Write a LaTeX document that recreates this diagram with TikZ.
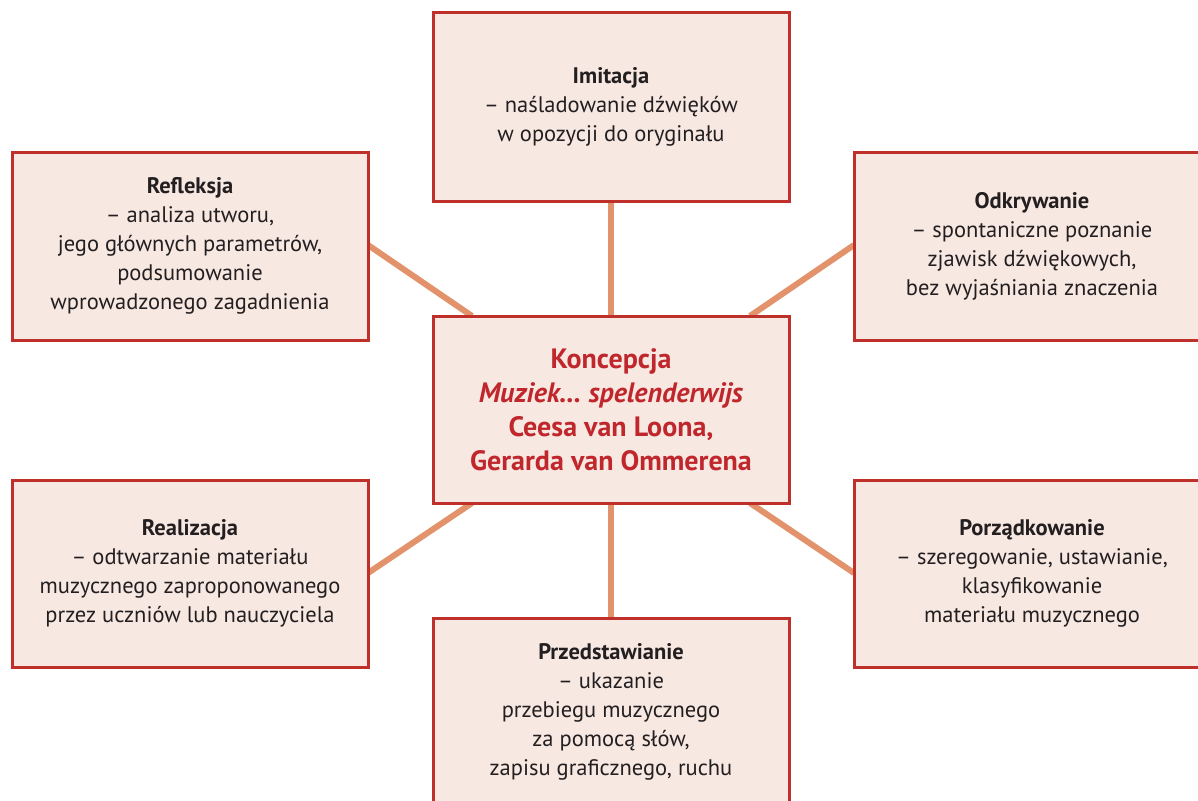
\documentclass[tikz,border=0pt]{standalone}
\usepackage{fontspec}
\setmainfont{PT Sans}
\usetikzlibrary{calc}
\definecolor{boxfill}{HTML}{F8E8E2}
\definecolor{boxline}{HTML}{C0302A}
\definecolor{conn}{HTML}{E3936B}
\definecolor{txt}{HTML}{231F20}
\definecolor{ctxt}{HTML}{C0272D}
\tikzset{
  card/.style={draw=boxline, line width=3pt, fill=boxfill, minimum width=356pt, minimum height=188pt, align=center, text=txt, font=\fontsize{22.5}{29}\selectfont, inner sep=0pt},
  hub/.style={card, text=ctxt, font=\fontsize{28}{34}\selectfont\bfseries},
  link/.style={draw=conn, line width=6pt}
}
\begin{document}
\begin{tikzpicture}[x=1pt,y=-1pt]
\useasboundingbox (0,0) rectangle (1198,800);
\clip (0,0) rectangle (1198,800);
\fill[white] (0,0) rectangle (1198,800);
% connector end points
\coordinate (cTL) at (472,316);
\coordinate (cTR) at (750,316);
\coordinate (cBL) at (472,503);
\coordinate (cBR) at (750,503);
\coordinate (cT) at (611,316);
\coordinate (cB) at (611,503);
\coordinate (iB) at (611,201);
\coordinate (pT) at (611,618);
\coordinate (rE) at (368,245);
\coordinate (oW) at (854,245);
\coordinate (reE) at (368,573);
\coordinate (poW) at (854,573);
\draw[link] (iB) -- (cT);
\draw[link] (cB) -- (pT);
\draw[link] (rE) -- (cTL);
\draw[link] (oW) -- (cTR);
\draw[link] (reE) -- (cBL);
\draw[link] (poW) -- (cBR);
% boxes
\node[card] (imit) at (611,107) {\textbf{Imitacja}\\– naśladowanie dźwięków\\w opozycji do oryginału};
\node[card] (refl) at (190,246) {\textbf{Refleksja}\\– analiza utworu,\\jego głównych parametrów,\\podsumowanie\\wprowadzonego zagadnienia};
\node[card] (odkr) at (1032,246) {\textbf{Odkrywanie}\\– spontaniczne poznanie\\zjawisk dźwiękowych,\\bez wyjaśniania znaczenia};
\node[hub, minimum height=187pt] (center) at (611,409.5) {Koncepcja\\\textit{Muziek… spelenderwijs}\\Ceesa van Loona,\\Gerarda van Ommerena};
\node[card, minimum height=187pt] (real) at (190,573.5) {\textbf{Realizacja}\\– odtwarzanie materiału\\muzycznego zaproponowanego\\przez uczniów lub nauczyciela};
\node[card, minimum height=187pt] (porz) at (1032,573.5) {\textbf{Porządkowanie}\\– szeregowanie, ustawianie,\\klasyfikowanie\\materiału muzycznego};
\node[card] (przed) at (611,712) {\textbf{Przedstawianie}\\– ukazanie\\przebiegu muzycznego\\za pomocą słów,\\zapisu graficznego, ruchu};
\end{tikzpicture}
\end{document}
